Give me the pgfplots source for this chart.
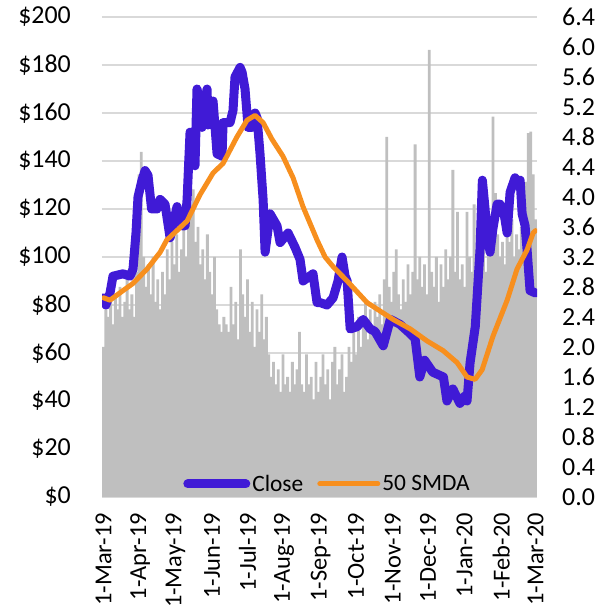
\documentclass[border=0pt]{standalone}
\usepackage{pgfplots}
\pgfplotsset{compat=1.18}
\usepackage{fontspec}
\setmainfont{Carlito}
\definecolor{closec}{RGB}{64,26,214}
\definecolor{smac}{RGB}{247,143,30}
\definecolor{volc}{RGB}{191,191,191}
\definecolor{gridc}{RGB}{217,217,217}

\pgfplotstableread{
day vol
0 2.0
2 2.5
4 2.4
6 2.6
8 2.3
10 2.7
12 2.5
14 2.8
16 2.4
18 2.6
20 2.9
22 2.5
24 2.7
26 2.4
28 3.0
30 4.3
32 4.6
34 3.2
36 2.8
38 3.1
40 2.7
42 3.2
44 2.6
46 2.9
48 2.5
50 3.0
52 2.7
54 3.3
56 2.9
58 3.4
60 3.1
62 3.5
64 3.0
66 3.3
68 3.6
70 3.2
72 4.1
74 3.9
76 4.1
78 3.4
80 3.6
82 3.1
84 3.3
86 2.9
88 3.5
90 3.0
92 2.7
94 3.2
96 2.5
98 2.3
100 2.2
102 2.4
104 2.3
106 2.2
108 2.8
110 2.3
112 2.6
114 2.1
116 3.3
118 2.7
120 2.4
122 2.9
124 2.2
126 2.6
128 2.0
130 2.5
132 2.2
134 2.7
136 2.1
138 2.4
140 1.9
142 1.6
144 1.8
146 1.5
148 1.7
150 1.4
152 1.9
154 1.5
156 1.6
158 1.4
160 1.8
162 1.5
164 1.7
166 2.2
168 1.5
170 1.4
172 1.9
174 1.5
176 1.6
178 1.3
180 1.8
182 1.4
184 1.6
186 1.9
188 1.5
190 1.7
192 1.3
194 1.8
196 2.0
198 1.5
200 1.7
202 1.9
204 1.4
206 1.6
208 2.0
210 1.8
212 2.2
214 1.9
216 2.4
218 2.0
220 2.3
222 2.6
224 2.1
226 2.5
228 2.2
230 2.6
232 2.4
234 2.7
236 2.3
238 2.9
240 4.8
242 2.8
244 2.6
246 3.0
248 3.3
250 2.7
252 2.5
254 2.9
256 2.6
258 3.1
260 2.7
262 3.0
264 4.7
266 2.9
268 3.2
270 2.8
272 3.1
274 2.7
276 5.96
278 3.0
280 2.8
282 3.2
284 2.6
286 3.1
288 2.8
290 3.3
292 2.9
294 3.2
296 4.36
298 3.0
300 3.8
302 2.9
304 3.1
306 2.8
308 3.8
310 3.2
312 3.0
314 3.9
316 3.3
318 3.6
320 3.2
322 3.4
324 3.0
326 3.6
328 3.3
330 5.07
332 4.05
334 3.5
336 3.2
338 3.4
340 3.1
342 3.7
344 3.4
346 3.7
348 3.2
350 3.5
352 3.3
354 3.6
356 3.9
358 4.2
360 4.85
362 4.87
364 4.3
366 3.7
}\voltable

\begin{document}
\begin{tikzpicture}
\pgfplotsset{
  base/.style={
    scale only axis, width=435bp, height=480bp,
    xmin=-1.3, xmax=367.3,
    at={(0,0)}, anchor=south west,
    axis line style={draw=none},
    major tick length=0pt,
    /pgf/number format/assume math mode=true,
    tick label style={inner sep=0pt},
  }
}
% grid + left labels + x labels
\begin{axis}[base,
  ymin=0, ymax=200,
  ytick={0,20,40,60,80,100,120,140,160,180,200},
  yticklabel={\$\pgfmathprintnumber{\tick}},
  yticklabel style={font=\fontsize{26}{30}\selectfont},
  yticklabel shift=31bp,
  ymajorgrids, grid style={gridc, line width=1.5bp},
  xtick={0,31,61,92,122,153,184,214,245,275,306,337,366},
  xticklabels={1-Mar-19,1-Apr-19,1-May-19,1-Jun-19,1-Jul-19,1-Aug-19,1-Sep-19,1-Oct-19,1-Nov-19,1-Dec-19,1-Jan-20,1-Feb-20,1-Mar-20},
  xticklabel style={rotate=90, anchor=east, font=\fontsize{24.5}{28}\selectfont},
  xticklabel shift=16bp,
]
\end{axis}
% volume on right axis
\begin{axis}[base,
  ymin=0, ymax=6.4,
  ytick={0,0.4,0.8,1.2,1.6,2.0,2.4,2.8,3.2,3.6,4.0,4.4,4.8,5.2,5.6,6.0,6.4},
  yticklabel pos=right,
  yticklabel style={font=\fontsize{26}{30}\selectfont, /pgf/number format/.cd, fixed, fixed zerofill, precision=1},
  yticklabel shift=25bp,
  xtick=\empty,
]
\addplot[ybar, bar width=2.4, bar shift=0pt, fill=volc, draw=none] table[x=day, y=vol] {\voltable};
\end{axis}
% lines
\begin{axis}[base,
  ymin=0, ymax=200,
  xtick=\empty, ytick=\empty,
  legend style={at={(0.5,0)}, anchor=south, xshift=8bp, draw=none, fill=none,
    font=\fontsize{23.5}{28}\selectfont, legend columns=2,
    /tikz/every even column/.append style={column sep=12bp}},
  legend image code/.code={\draw[#1] (0bp,0bp) -- (58bp,0bp);},
]
\addplot[closec, line width=9bp, line join=round, line cap=round] coordinates {
(0,83) (2,80) (5.5,85) (8,92) (16.5,93) (22.5,92) (25,95) (27.5,110) (29.2,125) (32.6,132) (35.2,136) (37.7,134) (40.7,120) (45.3,120) (47.9,124) (52.1,122) (56.4,108) (62.3,121) (66.5,113) (69.1,113) (70.8,124) (73.3,152) (75.5,150) (77.5,138) (79.2,170) (81,166) (83.5,154) (87.7,170) (88.6,155) (92.8,165) (96.2,143) (100.4,142) (101.3,156) (107.2,156) (109.7,161) (111.4,175) (115.7,179) (117.4,177) (119.9,170) (122.5,154) (125.8,154) (128.4,160) (130.1,158) (132.6,143) (135.2,124) (136.9,102) (141.1,118) (147,113) (149.6,106) (156.4,110) (162.3,104) (166.5,99) (169.1,90) (177.5,93) (180.9,81) (183.5,81) (189.4,80) (194.5,83) (198.7,90) (202.1,100) (204.7,92) (206.4,90) (209,70) (215,71) (220,74) (226,70) (230,69) (237,63) (243,74) (247,73) (251,72) (260,68) (264,66) (268,50) (272,57) (279,52) (288,50) (291,40) (296,45) (302,39) (306,42) (308,40) (310.6,56) (315,71) (319,103) (321,132) (323.3,120) (325,110) (327.5,102) (330,112) (333.5,122) (336,122) (339.4,118) (342,110) (344.5,127) (348.7,133) (351.3,131) (353,132) (354.7,118) (357.2,113) (358.9,103) (361.4,86) (366,85)
};
\addlegendentry{Close}
\addplot[smac, line width=5bp, line join=round, line cap=round] coordinates {
(0,83) (5.5,82) (16.5,86) (25,89) (36.9,95) (48,102) (53.5,107) (70.8,115) (81.8,126) (92.8,135) (101.3,139) (113,150) (121.6,157) (128.4,159) (135.2,156) (142.8,149) (152,142) (160.6,133) (169,121) (181,107) (187.7,100) (194.5,96) (206.4,90) (223.3,81) (245.3,74) (260,70) (274.2,65) (287.7,61) (299.6,56) (308,50) (314.8,49) (320.8,53) (330,67) (342,82) (350.4,95) (358.9,103) (364,110) (366,111)
};
\addlegendentry{50 SMDA}
\end{axis}
\pgfresetboundingbox
\path (-102bp,-116bp) rectangle (500bp,497bp);
\end{tikzpicture}
\end{document}
